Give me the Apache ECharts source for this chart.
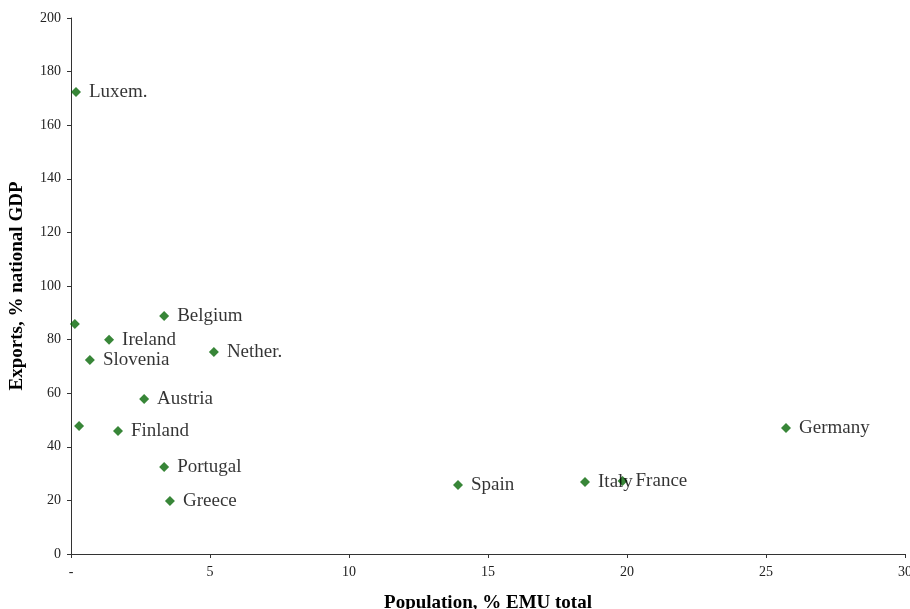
<!DOCTYPE html>
<html>
<head>
<meta charset="utf-8">
<script src="https://cdn.jsdelivr.net/npm/echarts@6/dist/echarts.min.js"></script>
<style>
  html, body { margin: 0; padding: 0; background: #fff; overflow: hidden; width: 100%; height: 100%; }
  #chart { width: 100vw; height: 100vh; }
</style>
</head>
<body>
<div id="chart"></div>
<script>
// Euro-area members: population share vs. export intensity
const countries = ['Luxem.', '', '', 'Belgium', 'Ireland', 'Slovenia', 'Nether.', 'Austria', 'Finland',
                   'Portugal', 'Greece', 'Spain', 'Italy', 'France', 'Germany'];
const popShare = [0.18, 0.14, 0.29, 3.35, 1.37, 0.68, 5.14, 2.63, 1.69, 3.35, 3.56, 13.92, 18.49, 19.84, 25.72];
const exportsGdp = [172.4, 85.8, 47.8, 88.8, 79.9, 72.4, 75.4, 57.8, 45.9, 32.5, 19.8, 25.7, 26.9, 27.2, 47.0];

const xTicks = [0, 5, 10, 15, 20, 25, 30];
const yTicks = [0, 20, 40, 60, 80, 100, 120, 140, 160, 180, 200];

const points = countries.map((name, i) => ({ name: name, value: [popShare[i], exportsGdp[i]] }));

const serif = '"Liberation Serif", "Times New Roman", serif';
const chart = echarts.init(document.getElementById('chart'));
chart.setOption({
  animation: false,
  backgroundColor: '#ffffff',
  grid: { left: 71, right: 5, top: 18, bottom: 55, outerBoundsMode: 'none', containLabel: false },
  xAxis: {
    type: 'value',
    min: xTicks[0], max: xTicks[xTicks.length - 1], interval: 5,
    name: 'Population, % EMU total',
    nameLocation: 'middle', nameGap: 40,
    nameTextStyle: { fontFamily: serif, fontWeight: 'bold', fontSize: 19, color: '#000' },
    axisLine: { lineStyle: { color: '#333', width: 1 } },
    axisTick: { show: true, length: 4, lineStyle: { color: '#333' } },
    splitLine: { show: false },
    axisLabel: {
      fontFamily: serif, fontSize: 14, color: '#222', margin: 11,
      formatter: v => (v === 0 ? '-' : String(v))
    }
  },
  yAxis: {
    type: 'value',
    min: yTicks[0], max: yTicks[yTicks.length - 1], interval: 20,
    name: 'Exports, % national GDP',
    nameLocation: 'middle', nameGap: 44, nameRotate: 90,
    nameTextStyle: { fontFamily: serif, fontWeight: 'bold', fontSize: 19, color: '#000' },
    axisLine: { show: true, lineStyle: { color: '#333', width: 1 } },
    axisTick: { show: true, length: 4, lineStyle: { color: '#333' } },
    splitLine: { show: false },
    axisLabel: { fontFamily: serif, fontSize: 14, color: '#222', margin: 10 }
  },
  series: [{
    type: 'scatter',
    symbol: 'diamond',
    symbolSize: 10,
    itemStyle: { color: '#066806' },
    data: points,
    label: {
      show: true,
      position: 'right',
      distance: 8,
      formatter: p => p.name,
      fontFamily: serif,
      fontSize: 19,
      color: '#000'
    }
  }]
});
</script>
</body>
</html>
